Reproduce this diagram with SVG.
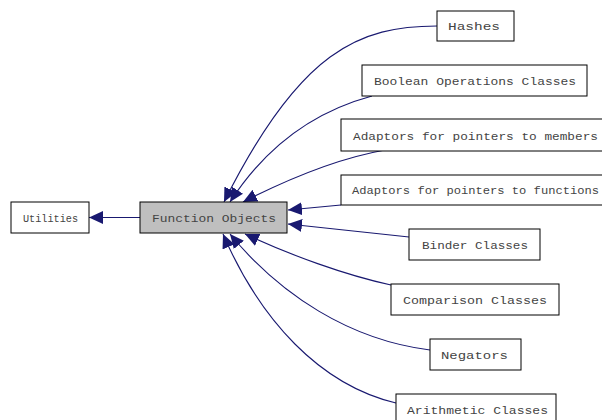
<svg xmlns="http://www.w3.org/2000/svg" width="602" height="420" viewBox="0 0 602 420">
<style>
.box{fill:#fff;stroke:#000;stroke-width:1}
.cur{fill:#bfbfbf;stroke:#000;stroke-width:1}
text{font-family:"Liberation Mono","DejaVu Sans Mono",monospace;font-size:11.5px;fill:#444}
.e{fill:none;stroke:#191970;stroke-width:1.1}
</style>
<defs>
<marker id="ah" markerUnits="userSpaceOnUse" markerWidth="16" markerHeight="14" refX="14" refY="6.5" orient="auto">
<path d="M0,0 L14,6.5 L0,13 z" fill="#191970"/>
</marker>
</defs>
<rect width="602" height="420" fill="#fff"/>
<g id="edges">
<path class="e" marker-end="url(#ah)" d="M140,217.5 L89,217.5"/>
<path class="e" marker-end="url(#ah)" d="M437,26 C360,26 300,50 224,202"/>
<path class="e" marker-end="url(#ah)" d="M372,96 C320,110 270,140 230,202"/>
<path class="e" marker-end="url(#ah)" d="M385,150 C340,158 290,178 243,202"/>
<path class="e" marker-end="url(#ah)" d="M341,205 L288,210"/>
<path class="e" marker-end="url(#ah)" d="M409,237 L288,224"/>
<path class="e" marker-end="url(#ah)" d="M391,285 C345,275 290,255 245,234"/>
<path class="e" marker-end="url(#ah)" d="M430,350 C350,340 280,295 230,234"/>
<path class="e" marker-end="url(#ah)" d="M396,403 C320,385 260,320 223,234"/>
</g>
<g id="utilities"><rect class="box" x="11" y="202" width="78" height="31"/><text x="23" y="221.5" textLength="55" lengthAdjust="spacingAndGlyphs">Utilities</text></g>
<g id="function_objects"><rect class="cur" x="140" y="202" width="147" height="31"/><text x="152" y="221.5" textLength="124" lengthAdjust="spacingAndGlyphs">Function Objects</text></g>
<g id="hashes"><rect class="box" x="437" y="11" width="77" height="30"/><text x="448" y="30" textLength="52" lengthAdjust="spacingAndGlyphs">Hashes</text></g>
<g id="boolean"><rect class="box" x="362" y="65" width="225" height="31"/><text x="374" y="84.5" textLength="202" lengthAdjust="spacingAndGlyphs">Boolean Operations Classes</text></g>
<g id="members"><rect class="box" x="341" y="119" width="263" height="32"/><text x="353" y="139.5" textLength="245" lengthAdjust="spacingAndGlyphs">Adaptors for pointers to members</text></g>
<g id="functions"><rect class="box" x="341" y="175" width="263" height="30"/><text x="352" y="194" textLength="247" lengthAdjust="spacingAndGlyphs">Adaptors for pointers to functions</text></g>
<g id="binder"><rect class="box" x="409" y="229" width="131" height="31"/><text x="422" y="248.5" textLength="106" lengthAdjust="spacingAndGlyphs">Binder Classes</text></g>
<g id="comparison"><rect class="box" x="391" y="284" width="168" height="31"/><text x="403" y="303.5" textLength="144" lengthAdjust="spacingAndGlyphs">Comparison Classes</text></g>
<g id="negators"><rect class="box" x="430" y="339" width="91" height="31"/><text x="441" y="358.5" textLength="67" lengthAdjust="spacingAndGlyphs">Negators</text></g>
<g id="arithmetic"><rect class="box" x="396" y="394" width="160" height="31"/><text x="407" y="413.5" textLength="141" lengthAdjust="spacingAndGlyphs">Arithmetic Classes</text></g>
</svg>
